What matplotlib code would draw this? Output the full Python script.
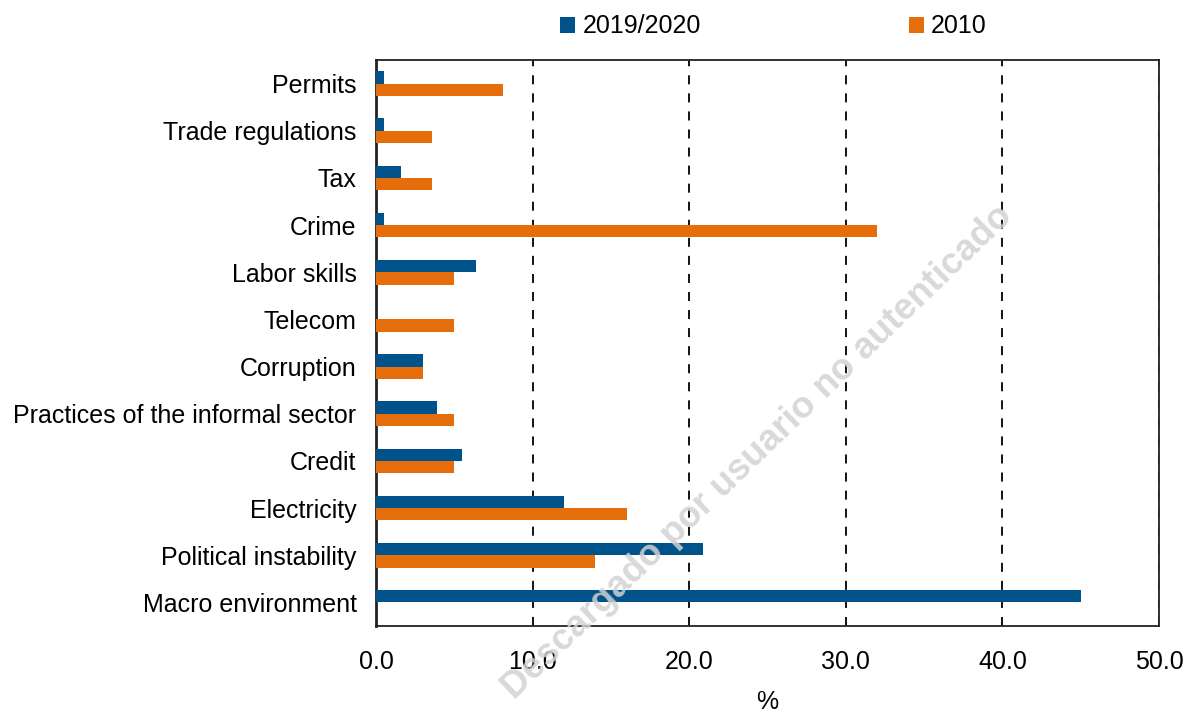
import numpy as np
import matplotlib.pyplot as plt

plt.rcParams['font.family'] = ['Liberation Sans', 'DejaVu Sans']

# categories, top to bottom
cats = ['Permits', 'Trade regulations', 'Tax', 'Crime', 'Labor skills', 'Telecom',
        'Corruption', 'Practices of the informal sector', 'Credit', 'Electricity',
        'Political instability', 'Macro environment']
v2019 = [0.5, 0.5, 1.6, 0.5, 6.4, 0.0, 3.0, 3.9, 5.5, 12.0, 20.9, 45.0]
v2010 = [8.1, 3.6, 3.6, 32.0, 5.0, 5.0, 3.0, 5.0, 5.0, 16.0, 14.0, 0.0]

blue = '#00538a'
orange = '#e56d0b'
fs = 18

fig = plt.figure(figsize=(11.91, 7.13), dpi=100)
ax = fig.add_axes([376/1191, 1 - 626/713, (1159-376)/1191, (626-60)/713])

y = np.arange(len(cats))[::-1]
h = 0.26
ax.barh(y + h/2, v2019, height=h, color=blue, label='2019/2020', zorder=3)
ax.barh(y - h/2, v2010, height=h, color=orange, label='2010', zorder=3)

ax.set_xlim(0, 50)
ax.set_ylim(-0.5, len(cats) - 0.5)
ax.set_xticks(np.arange(0, 51, 10))
ax.set_xticklabels(['%.1f' % t for t in np.arange(0, 51, 10)], fontsize=fs)
ax.set_yticks(y)
ax.set_yticklabels(cats, fontsize=fs)
ax.tick_params(axis='x', length=0, pad=17)
ax.tick_params(axis='y', length=0, pad=14)
ax.xaxis.grid(True, linestyle=(0, (5, 5)), color='black', linewidth=1.3, zorder=0)
for s in ax.spines.values():
    s.set_linewidth(1.3)
    s.set_color('#222222')
ax.spines['left'].set_linewidth(2)

ax.set_xlabel('%', fontsize=fs, labelpad=12)

fig.legend(loc='center', bbox_to_anchor=(0.6495, 0.963), ncol=2, frameon=False,
           fontsize=fs, handlelength=0.6, handleheight=0.6, handletextpad=0.3,
           columnspacing=8.3)

fig.text(0.636, 0.365, 'Descargado por usuario no autenticado', rotation=44,
         fontsize=26.5, fontweight='bold', color='#d2d2d2', alpha=0.85,
         ha='center', va='center', zorder=10)

fig.savefig('out.png', dpi=100)
